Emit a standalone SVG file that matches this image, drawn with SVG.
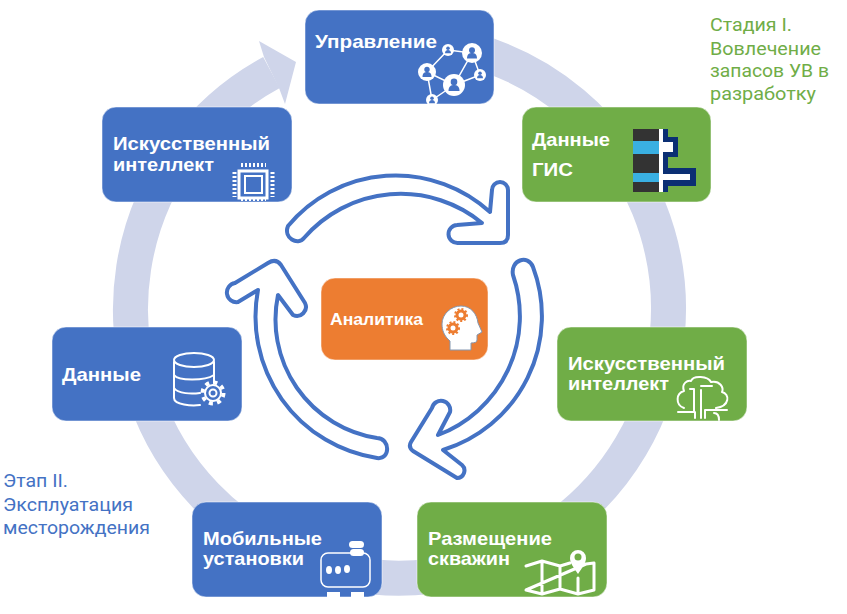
<svg xmlns="http://www.w3.org/2000/svg" width="847" height="614" viewBox="0 0 847 614">
<style>
.box{stroke:#fff;stroke-opacity:.5;stroke-width:1}
.blue{fill:#4472C4}.green{fill:#70AD47}.orange{fill:#ED7D31}
.t{font-family:"Liberation Sans",Arial,sans-serif;font-weight:700;font-size:18.500px;fill:#fff}
.n{font-family:Roboto,"Noto Sans",sans-serif;font-size:18px}
.loop{fill:#fff;stroke:#4472C4;stroke-width:4;stroke-linejoin:round}
.ic{fill:none;stroke:#fff;stroke-width:2;stroke-linecap:round;stroke-linejoin:round}
</style>
<defs>
<g id="p"><circle r="1" fill="#fff"/><circle cy="-.28" r=".3" fill="#4472C4"/><path d="M-.5.55C-.5.1-.25 0 0 0S.5.1.5.55Z" fill="#4472C4"/></g>
</defs>
<rect width="847" height="614" fill="#fff"/>
<g id="connectors">
<path d="M470 49.500A269 269 0 1 1 271.500 72.500" fill="none" stroke="#CFD5EA" stroke-width="35"/>
<path d="M259 41L296 62L285 104L279 88L264 57Z" fill="#CFD5EA"/>
<path class="loop" d="M288 226A140 140 0 0 1 490 212L492 190A8 8 0 0 1 508 190L508 235Q508 243 500 243L458 243A9 9 0 0 1 457 225L482 223A128 128 0 0 0 304 238C298 246 283 238 288 226Z"/>
<path class="loop" d="M533 267A140 140 0 0 1 443 450L462 465A7.500 7.500 0 0 1 457 478L413 451Q408 447 411 442L432 408A9 9 0 0 1 450 412L438 435A127 127 0 0 0 513 275C510 260 528 254 533 267Z"/>
<path class="loop" d="M377 458A143 143 0 0 1 258 290L238 302A9.500 9.500 0 0 1 235 283L268 263Q276 258 281 265L305 303A9 9 0 0 1 293 315L278 295A120 120 0 0 0 377 438C390 438 391 460 377 458Z"/>
</g>
<g id="node-upravlenie">
<rect class="box blue" x="305" y="10" width="189" height="94" rx="14"/>
<text class="t" x="315" y="48" textLength="122" lengthAdjust="spacingAndGlyphs">Управление</text>
<path d="M448 50L472 53L454 85L427 72L448 50M472 53L480 75L454 85M427 72L432 100L454 85" fill="none" stroke="#fff" stroke-width="1.500"/>
<use href="#p" transform="translate(448 50) scale(6)"/><use href="#p" transform="translate(472 53) scale(10)"/><use href="#p" transform="translate(427 72) scale(9)"/><use href="#p" transform="translate(480 75) scale(6)"/><use href="#p" transform="translate(454 85) scale(11)"/><use href="#p" transform="translate(432 100) scale(6)"/>
</g>
<g id="node-gis">
<rect class="box green" x="522" y="107" width="189" height="95" rx="14"/>
<text class="t" x="532" y="146" textLength="78" lengthAdjust="spacingAndGlyphs">Данные</text>
<text class="t" x="532" y="176" textLength="41" lengthAdjust="spacingAndGlyphs">ГИС</text>
<rect x="633" y="129" width="26" height="63" fill="#333"/>
<rect x="633" y="141" width="26" height="13" fill="#3AB0E2"/><rect x="633" y="173" width="26" height="9" fill="#3AB0E2"/>
<path d="M663 129H668V137H678V157H668V168H696V186H668V192H663Z" fill="#0B2F73"/>
<path d="M659 129H663V142H673V152H663V174H690V180H663V192H659Z" fill="#fff"/>
</g>
<g id="node-ai-green">
<rect class="box green" x="557" y="327" width="190" height="94" rx="14"/>
<text class="t" x="568" y="370" textLength="157" lengthAdjust="spacingAndGlyphs">Искусственный</text>
<text class="t" x="568" y="390" textLength="101" lengthAdjust="spacingAndGlyphs">интеллект</text>
<path class="ic" d="M684 408C675 405 676 393 684 391C681 383 688 380 691 381C693 375 708 376 711 382C720 380 724 388 722 392C730 394 730 406 716 408M690 389H694V412M701 390V418M701 386H712M678 412H695M705 410H727M695 412V418M705 410V418M714 413Q719 413 719 420"/>
</g>
<g id="node-wells">
<rect class="box green" x="417" y="502" width="190" height="95" rx="14"/>
<text class="t" x="428" y="545" textLength="124" lengthAdjust="spacingAndGlyphs">Размещение</text>
<text class="t" x="428" y="565" textLength="82" lengthAdjust="spacingAndGlyphs">скважин</text>
<path class="ic" style="stroke-width:3" d="M526 566L542 561L560 566L570 563M586 564L594 563V590L578 594L560 589L542 594L526 590ZM542 561V594M560 566V589M578 578V594"/>
<path d="M578 574C574 568 570 563 570 558A8 8 0 0 1 586 558C586 563 582 568 578 574Z" fill="#fff"/><circle cx="578" cy="557" r="3.500" fill="#70AD47"/>
</g>
<g id="node-mobile">
<rect class="box blue" x="192" y="502" width="190" height="95" rx="14"/>
<text class="t" x="203" y="545" textLength="119" lengthAdjust="spacingAndGlyphs">Мобильные</text>
<text class="t" x="203" y="565" textLength="101" lengthAdjust="spacingAndGlyphs">установки</text>
<rect x="321" y="553" width="49" height="34" rx="7" fill="none" stroke="#fff" stroke-width="1.500"/>
<rect x="349" y="541" width="15" height="7" rx="3.500" fill="#fff"/><rect x="350" y="549" width="14" height="7" rx="3.500" fill="#fff"/>
<ellipse cx="329" cy="570" rx="3" ry="4" fill="#fff"/><ellipse cx="338" cy="570" rx="3" ry="4" fill="#fff"/><ellipse cx="347" cy="569" rx="3" ry="4" fill="#fff"/>
<rect x="327" y="592" width="13" height="5" fill="#fff"/><rect x="351" y="592" width="13" height="5" fill="#fff"/>
</g>
<g id="node-data">
<rect class="box blue" x="52" y="327" width="190" height="94" rx="14"/>
<text class="t" x="62" y="381" textLength="79" lengthAdjust="spacingAndGlyphs">Данные</text>
<path class="ic" d="M214 383V362M174 362V398C174 405 192 406 200 405M174 375C178 381 205 381 214 375M174 388C178 394 192 394 200 393"/>
<ellipse class="ic" cx="194" cy="360" rx="20" ry="7"/>
<circle cx="213" cy="393" r="10.500" fill="none" stroke="#fff" stroke-width="4" stroke-dasharray="4 4.250"/>
<circle cx="213" cy="393" r="8" fill="#4472C4" stroke="#fff" stroke-width="2"/><circle cx="213" cy="393" r="3.500" fill="none" stroke="#fff" stroke-width="2"/>
</g>
<g id="node-ai-blue">
<rect class="box blue" x="102" y="107" width="190" height="95" rx="14"/>
<text class="t" x="113" y="150" textLength="157" lengthAdjust="spacingAndGlyphs">Искусственный</text>
<text class="t" x="113" y="171" textLength="101" lengthAdjust="spacingAndGlyphs">интеллект</text>
<rect x="239" y="171" width="28" height="27" fill="none" stroke="#fff" stroke-width="3"/>
<rect x="245" y="176" width="17" height="17" fill="none" stroke="#fff" stroke-width="2"/>
<path d="M241 165H266M241 199H266M234.500 172V197M272.500 172V197" fill="none" stroke="#fff" stroke-width="4" stroke-dasharray="2 2"/>
</g>
<g id="node-analytics">
<rect class="box orange" x="321" y="278" width="167" height="82" rx="14"/>
<text class="t" x="330" y="325" textLength="93" lengthAdjust="spacingAndGlyphs" style="font-size:16.500px">Аналитика</text>
<path d="M450 350V341C444 336 442 330 442 324C442 314 451 306 461 306C471 306 477 314 478 323L482 332L477 335V340Q477 343 471 343V350Z" fill="#fff" stroke="#8497B0" stroke-width="1"/>
<circle cx="461" cy="315" r="4" fill="none" stroke="#ED7D31" stroke-width="3"/><circle cx="461" cy="315" r="6" fill="none" stroke="#ED7D31" stroke-width="2" stroke-dasharray="2 2"/>
<circle cx="453" cy="328" r="4" fill="none" stroke="#ED7D31" stroke-width="3"/><circle cx="453" cy="328" r="6" fill="none" stroke="#ED7D31" stroke-width="2" stroke-dasharray="2 2"/>
</g>
<g id="labels">
<g fill="#70AD47" class="n"><text x="710" y="31" textLength="82" lengthAdjust="spacingAndGlyphs">Стадия I.</text><text x="710" y="55" textLength="111" lengthAdjust="spacingAndGlyphs">Вовлечение</text><text x="710" y="77" textLength="119" lengthAdjust="spacingAndGlyphs">запасов УВ в</text><text x="710" y="100" textLength="106" lengthAdjust="spacingAndGlyphs">разработку</text></g>
<g fill="#4472C4" class="n"><text x="3" y="487" textLength="65" lengthAdjust="spacingAndGlyphs">Этап II.</text><text x="3" y="511" textLength="130" lengthAdjust="spacingAndGlyphs">Эксплуатация</text><text x="3" y="534" textLength="147" lengthAdjust="spacingAndGlyphs">месторождения</text></g>
</g>
</svg>
